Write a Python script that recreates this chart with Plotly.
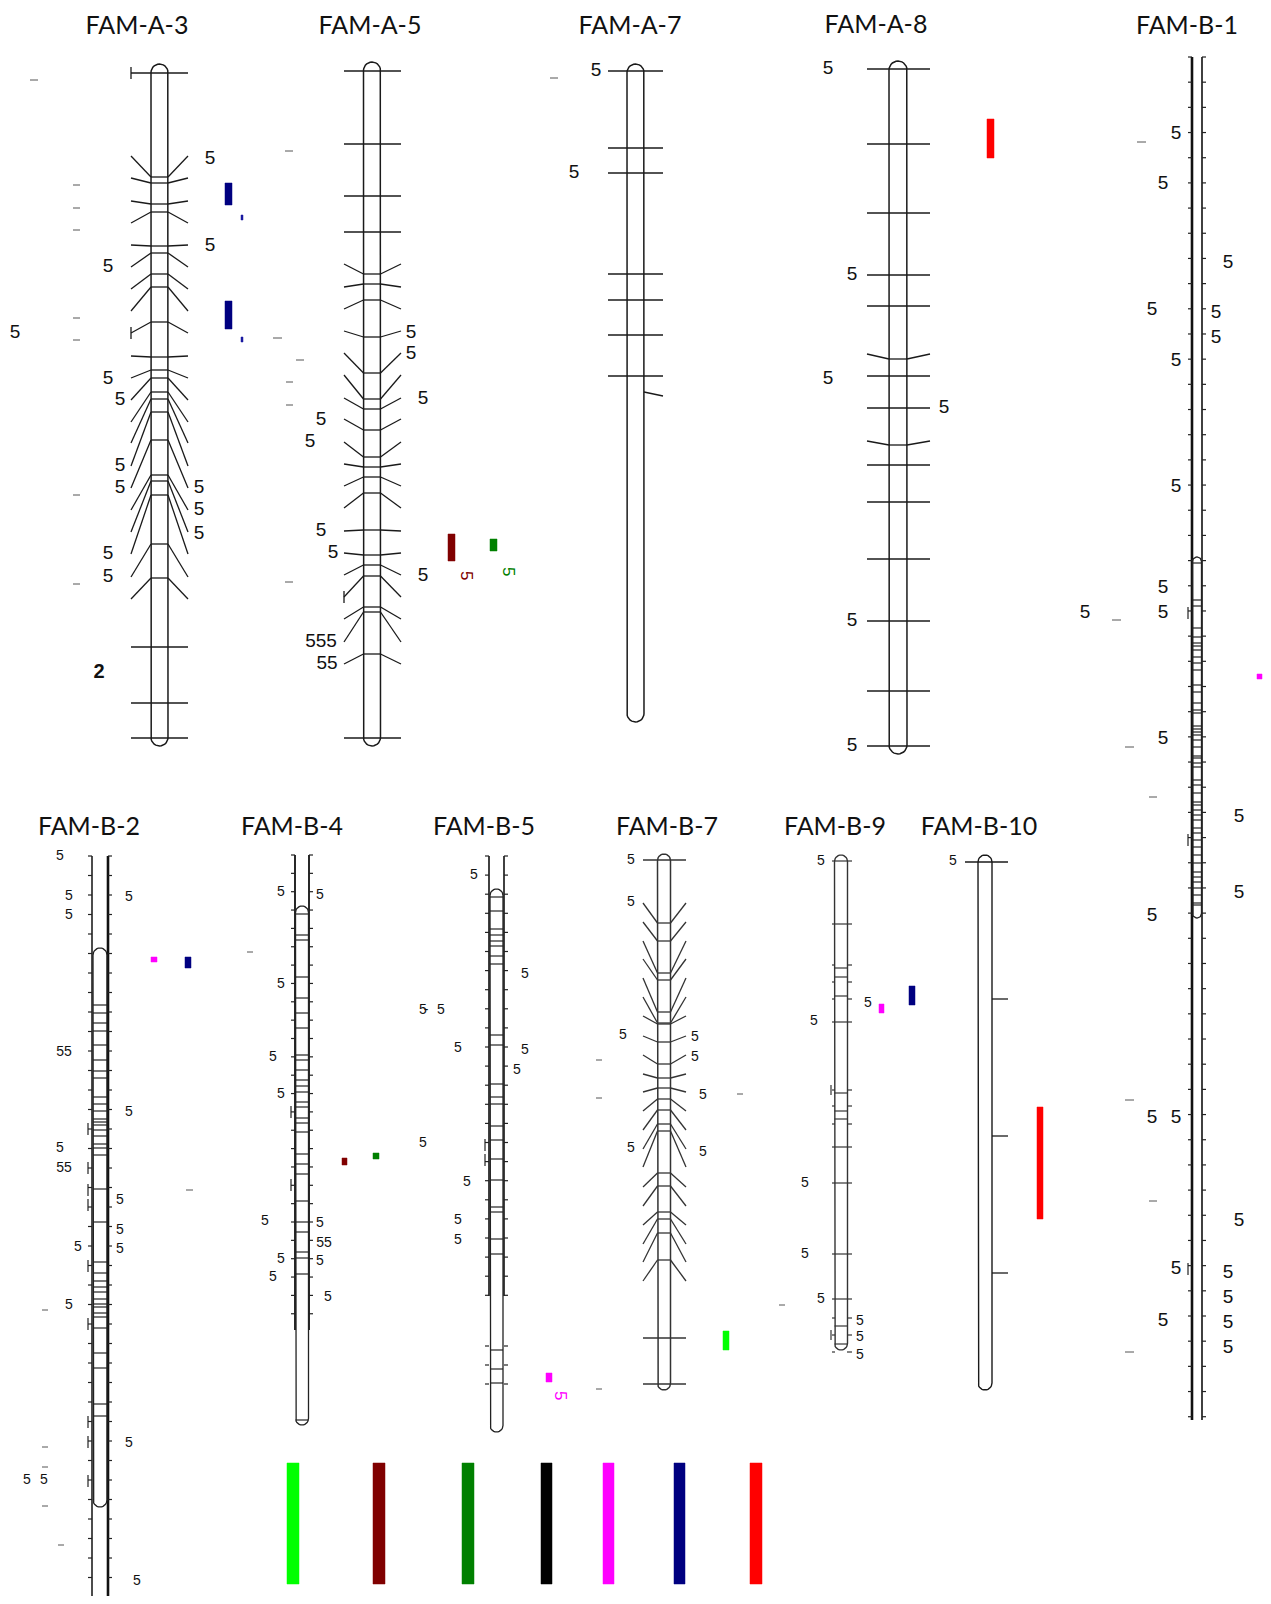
import math
import plotly.graph_objects as go

W, H = 1271, 1604
PAGE_MARGIN = 8  # default body margin of the html page

# ---------------- titles ----------------
TITLES = ["FAM-A-3", "FAM-A-5", "FAM-A-7", "FAM-A-8", "FAM-B-1", "FAM-B-2",
          "FAM-B-4", "FAM-B-5", "FAM-B-7", "FAM-B-9", "FAM-B-10"]
TITLE_X = [137, 370, 630, 876, 1187, 89, 292, 484, 667, 835, 979]
TITLE_Y = [28, 28, 28, 27, 28, 829, 829, 829, 829, 829, 829]

# ---------------- chromosome marker positions ----------------
A3_TUBE = [177, 183, 204, 212, 246, 253, 274, 287, 322, 357, 370, 378, 392, 399, 412,
           440, 475, 481, 495, 544, 578]
A3_END = [156, 178, 201, 223, 245, 267, 289, 311, 333, 356, 378, 400, 422, 443, 466,
          488, 510, 532, 554, 577, 599]
A3_HORIZ = [73, 647, 703, 738]
A3_TBARS = [73, 333]

A5_TUBE = [274, 284, 300, 337, 373, 399, 409, 430, 457, 467, 477, 493, 530, 555, 565,
           576, 607, 612, 654]
A5_END = [264, 287, 309, 331, 353, 375, 398, 419, 442, 464, 486, 508, 531, 553, 575,
          597, 619, 642, 664]
A5_HORIZ = [71, 144, 196, 232, 738]
A5_TBARS = [597]

A7_HORIZ = [71, 148, 173, 274, 300, 335, 376]
A7_RIGHT_TUBE = [392]
A7_RIGHT_END = [396]

A8_HORIZ = [69, 144, 213, 275, 306, 376, 408, 465, 502, 559, 621, 691, 746]
A8_TUBE = [359, 445]
A8_END = [354, 441]

B1_LINES = [563, 600, 606, 628, 637, 643, 646, 650, 657, 663, 670, 685, 692, 703, 710,
            713, 726, 729, 732, 735, 740, 747, 756, 758, 763, 767, 780, 785, 793, 802,
            805, 810, 815, 820, 828, 833, 840, 847, 855, 863, 872, 877, 882, 888, 895,
            903, 905]
B1_TBARS = [613, 840, 1269]

B2_LINES = [1005, 1013, 1023, 1031, 1045, 1060, 1071, 1078, 1097, 1104, 1111, 1119,
            1122, 1125, 1130, 1136, 1144, 1148, 1155, 1189, 1222, 1262, 1273, 1281,
            1287, 1292, 1299, 1304, 1307, 1313, 1317, 1328, 1353, 1368, 1404, 1416]
B2_TBARS = [1129, 1168, 1190, 1205, 1266, 1324, 1422, 1442, 1481]

B4_LINES = [914, 935, 940, 977, 998, 1013, 1028, 1055, 1060, 1070, 1080, 1086, 1092,
            1102, 1107, 1118, 1123, 1132, 1154, 1164, 1174, 1201, 1222, 1232, 1252,
            1258, 1274, 1420]
B4_TBARS = [1112, 1185]

B5_LINES = [897, 911, 929, 935, 941, 946, 956, 964, 1035, 1045, 1084, 1097, 1104, 1126,
            1140, 1159, 1180, 1207, 1212, 1239, 1254, 1350, 1369, 1383]
B5_EXTRA_TICKS = [1346, 1365, 1384]
B5_TBARS = [1145, 1160]

B7_TUBE = [923, 941, 973, 980, 1012, 1023, 1024, 1042, 1064, 1078, 1088, 1099, 1110,
           1124, 1131, 1173, 1186, 1212, 1219, 1233, 1260]
B7_END = [903, 922, 941, 959, 978, 997, 1016, 1036, 1055, 1074, 1092, 1111, 1130,
          1149, 1167, 1187, 1206, 1225, 1244, 1262, 1281]
B7_HORIZ = [860, 1338, 1384]

B9_TICKS = [861, 924, 1022, 1147, 1183, 1254, 1299]
B9_INNER = [968, 977, 996, 1093, 1111, 1119, 1326, 1344]
B9_BRACKETS = [965, 982, 999, 1090, 1106, 1124, 1318, 1335, 1352]
B9_TBARS = [1090, 1335]

B10_TOP = [862]
B10_RIGHT = [999, 1136, 1273]

# ---------------- labels ----------------
LAB_A_X = [210, 210, 108, 15, 108, 120, 120, 120, 199, 199, 199, 108, 108,
           411, 411, 423, 321, 310, 321, 333, 423,
           596, 574,
           828, 852, 828, 944, 852, 852]
LAB_A_Y = [159, 246, 267, 333, 379, 400, 466, 488, 488, 510, 534, 554, 577,
           333, 354, 399, 420, 442, 531, 553, 576,
           71, 173,
           69, 275, 379, 408, 621, 746]
LAB_A_MULTI_T = ["555", "55"]
LAB_A_MULTI_X = [321, 327]
LAB_A_MULTI_Y = [642, 664]

LAB_B1_X = [1176, 1163, 1228, 1152, 1216, 1216, 1176, 1176, 1163, 1163, 1085, 1163,
            1239, 1239, 1152, 1152, 1176, 1239, 1176, 1228, 1228, 1228, 1228, 1163]
LAB_B1_Y = [134, 184, 263, 310, 313, 338, 361, 487, 588, 613, 613, 739,
            817, 893, 916, 1118, 1118, 1221, 1269, 1273, 1298, 1323, 1348, 1321]

LAB_S_T = ["5", "5", "5", "5", "5", "5", "5", "5", "5", "5", "5", "5", "5", "5", "5",
           "55", "55",
           "5", "5", "5", "5", "5", "5", "5", "5", "5", "5", "5", "55",
           "5", "5", "-", "5", "5", "5", "5", "5", "5", "5", "5", "5",
           "5", "5", "5", "5", "5", "5", "5", "5",
           "5", "5", "5", "5", "5", "5", "5", "5", "5",
           "5"]
LAB_S_X = [60, 69, 69, 129, 129, 60, 120, 120, 120, 78, 69, 129, 27, 44, 137,
           64, 64,
           281, 320, 281, 273, 281, 265, 320, 281, 320, 273, 328, 324,
           474, 525, 426, 441, 458, 525, 517, 423, 467, 458, 458, 423,
           631, 631, 623, 695, 695, 703, 631, 703,
           821, 814, 805, 805, 821, 860, 860, 860, 868,
           953]
LAB_S_Y = [856, 896, 915, 897, 1112, 1148, 1200, 1230, 1249, 1247, 1305, 1443, 1480, 1480, 1581,
           1052, 1168,
           892, 895, 984, 1057, 1094, 1221, 1223, 1259, 1261, 1277, 1297, 1243,
           875, 974, 1010, 1010, 1048, 1050, 1070, 1143, 1182, 1220, 1240, 1010,
           860, 902, 1035, 1037, 1057, 1095, 1148, 1152,
           861, 1021, 1183, 1254, 1299, 1321, 1337, 1355, 1003,
           861]

# ---------------- coloured QTL bars ----------------
RECT_X0 = [225, 225, 241, 241, 987, 448, 490, 1257, 151, 185, 342, 373, 546, 723, 879, 909, 1037]
RECT_X1 = [232, 232, 243, 243, 994, 455, 497, 1262, 157, 191, 347, 379, 552, 729, 884, 915, 1043]
RECT_Y0 = [183, 301, 215, 337, 119, 534, 539, 674, 957, 957, 1158, 1153, 1373, 1331, 1004, 986, 1107]
RECT_Y1 = [205, 329, 220, 342, 158, 561, 551, 679, 962, 968, 1165, 1159, 1382, 1350, 1013, 1005, 1219]
RECT_C = ["#000080", "#000080", "#1a1aa0", "#1a1aa0", "#FF0000", "#800000", "#008000",
          "#FF00FF", "#FF00FF", "#000080", "#800000", "#008000", "#FF00FF", "#00FF00",
          "#FF00FF", "#000080", "#FF0000"]

LEGEND_COLORS = ["#00FF00", "#800000", "#008000", "#000000", "#FF00FF", "#000080", "#FF0000"]
LEGEND_X0 = [287, 373, 462, 541, 603, 674, 750]
LEGEND_X1 = [299, 385, 474, 552, 614, 685, 762]
LEGEND_Y = [1463, 1584]

ROT_T = ["5", "5", "5"]
ROT_X = [467, 509, 561]
ROT_Y = [575, 571, 1395]
ROT_C = ["#800000", "#008000", "#FF00FF"]

DASH_X0 = [30, 73, 73, 73, 73, 73, 73, 73, 285, 273, 296, 286, 286, 285, 550,
           247, 186, 42, 42, 42, 42, 58, 596, 596, 596, 737, 779,
           1137, 1112, 1125, 1149, 1125, 1149, 1125]
DASH_X1 = [38, 80, 80, 80, 80, 80, 80, 80, 293, 282, 304, 293, 293, 293, 558,
           253, 193, 48, 48, 48, 48, 64, 602, 602, 602, 743, 785,
           1146, 1121, 1134, 1157, 1134, 1157, 1134]
DASH_Y = [80, 185, 208, 230, 318, 340, 495, 584, 151, 338, 360, 382, 405, 582, 78,
          952, 1190, 1310, 1447, 1467, 1506, 1545, 1060, 1098, 1389, 1094, 1305,
          142, 620, 747, 797, 1100, 1201, 1352]

# ---------------- helpers ----------------
def capsule(cx, w, top, bot, n=14):
    r = w / 2.0
    xs, ys = [cx - r, cx - r], [top + r, bot - r]
    for i in range(1, n):
        a = math.pi - math.pi * i / n
        xs.append(cx + r * math.cos(a)); ys.append(bot - r + r * math.sin(a))
    xs += [cx + r, cx + r]; ys += [bot - r, top + r]
    for i in range(1, n + 1):
        a = math.pi * i / n
        xs.append(cx + r * math.cos(a)); ys.append(top + r - r * math.sin(a))
    return xs, ys


def seg_trace(segs, color, width):
    xs, ys = [], []
    for x0, y0, x1, y1 in segs:
        xs += [x0, x1, None]; ys += [y0, y1, None]
    return go.Scatter(x=xs, y=ys, mode="lines", line=dict(color=color, width=width),
                      hoverinfo="skip", showlegend=False, cliponaxis=False)


def tube_trace(cx, w, top, bot, color, width):
    xs, ys = capsule(cx, w, top, bot)
    return go.Scatter(x=xs, y=ys, mode="lines", line=dict(color=color, width=width),
                      hoverinfo="skip", showlegend=False, cliponaxis=False)


def text_trace(xs, ys, texts, family, size, color="#111111"):
    return go.Scatter(x=xs, y=ys, mode="text", text=texts,
                      textfont=dict(family=family, size=size, color=color),
                      hoverinfo="skip", showlegend=False, cliponaxis=False)


fig = go.Figure()


def fan_chrom(cx, w, top, bot, endL, endR, tube, end, horiz, tbars, color="#1a1a1a"):
    r = w / 2.0
    fig.add_trace(tube_trace(cx, w, top, bot, color, 1.5))
    segs = []
    for ty, ey in zip(tube, end):
        segs.append((cx - r, ty, cx + r, ty))
        segs.append((endL, ey, cx - r, ty))
        segs.append((cx + r, ty, endR, ey))
    for y in horiz:
        segs.append((endL, y, endR, y))
    for y in tbars:
        segs.append((endL, y - 6, endL, y + 6))
    fig.add_trace(seg_trace(segs, color, 1.3))


fan_chrom(159.5, 17, 64, 746, 131, 188, A3_TUBE, A3_END, A3_HORIZ, A3_TBARS)
fan_chrom(372, 17, 62, 746, 344, 401, A5_TUBE, A5_END, A5_HORIZ, A5_TBARS)
fan_chrom(635.5, 17, 64, 722, 608, 663, [], [], A7_HORIZ, [])
fig.add_trace(seg_trace([(644, t, 663, e) for t, e in zip(A7_RIGHT_TUBE, A7_RIGHT_END)],
                        "#1a1a1a", 1.3))
fan_chrom(898, 18, 61, 754, 867, 930, A8_TUBE, A8_END, A8_HORIZ, [])


def ruler_chrom(xl, xr, rtop, rbot, step, cx, w, top, bot, lines, tbars, lw_l, lw_r,
                extra_ticks=()):
    segs_l, segs_r, ticks = [], [], []
    segs_l.append((xl, rtop, xl, rbot))
    segs_r.append((xr, rtop, xr, rbot))
    y = rtop
    while y <= rbot + 0.5:
        ticks.append((xl - 4, y, xl, y))
        ticks.append((xr, y, xr + 4, y))
        y += step
    for y in extra_ticks:
        ticks.append((xl - 4, y, xl, y))
        ticks.append((xr, y, xr + 4, y))
    fig.add_trace(seg_trace(segs_l, "#111111", lw_l))
    fig.add_trace(seg_trace(segs_r, "#111111", lw_r))
    fig.add_trace(seg_trace(ticks, "#222222", 1.2))
    fig.add_trace(tube_trace(cx, w, top, bot, "#222222", 1.3))
    r = w / 2.0
    inner = [(cx - r, y, cx + r, y) for y in lines]
    for y in tbars:
        inner.append((xl - 4, y - 6, xl - 4, y + 6))
    fig.add_trace(seg_trace(inner, "#222222", 1.2))


ruler_chrom(1192, 1202, 57, 1420, 25.18, 1197, 9, 557, 918, B1_LINES, B1_TBARS, 2.6, 1.6)
ruler_chrom(92, 108, 856, 1597, 19.5, 100, 14, 948, 1507, B2_LINES, B2_TBARS, 1.5, 2.6)
ruler_chrom(295, 309, 855, 1330, 18.35, 302, 13, 906, 1425, B4_LINES, B4_TBARS, 1.8, 1.8)
ruler_chrom(489, 504, 856, 1296, 19.1, 496.5, 13, 889, 1432, B5_LINES, B5_TBARS, 1.6, 1.6,
            B5_EXTRA_TICKS)

fan_chrom(664, 13, 854, 1390, 643, 686, B7_TUBE, B7_END, B7_HORIZ, [], color="#333333")

fig.add_trace(tube_trace(841, 13, 855, 1350, "#333333", 1.4))
b9 = [(832, y, 852, y) for y in B9_TICKS]
b9 += [(834.5, y, 847.5, y) for y in B9_INNER]
for y in B9_BRACKETS:
    b9.append((832, y, 835, y)); b9.append((847, y, 852, y))
for y in B9_TBARS:
    b9.append((831, y - 5, 831, y + 5))
fig.add_trace(seg_trace(b9, "#333333", 1.2))

fig.add_trace(tube_trace(985, 14, 855, 1390, "#1a1a1a", 1.4))
b10 = [(965, y, 1008, y) for y in B10_TOP] + [(992, y, 1008, y) for y in B10_RIGHT]
fig.add_trace(seg_trace(b10, "#1a1a1a", 1.3))

fig.add_trace(seg_trace([(a, y, b, y) for a, b, y in zip(DASH_X0, DASH_X1, DASH_Y)],
                        "#555555", 1.0))


def rect_trace(x0, x1, y0, y1, c):
    return go.Scatter(x=[x0, x1, x1, x0, x0], y=[y0, y0, y1, y1, y0], mode="lines",
                      fill="toself", fillcolor=c, line=dict(color=c, width=0.5),
                      hoverinfo="skip", showlegend=False, cliponaxis=False)


for x0, x1, y0, y1, c in zip(RECT_X0, RECT_X1, RECT_Y0, RECT_Y1, RECT_C):
    fig.add_trace(rect_trace(x0, x1, y0, y1, c))
for x0, x1, c in zip(LEGEND_X0, LEGEND_X1, LEGEND_COLORS):
    fig.add_trace(rect_trace(x0, x1, LEGEND_Y[0], LEGEND_Y[1], c))

fig.add_trace(text_trace(TITLE_X, TITLE_Y, TITLES, "Lato", 25))
fig.add_trace(text_trace(LAB_A_X, LAB_A_Y, ["5"] * len(LAB_A_X), "Liberation Sans", 19))
fig.add_trace(text_trace(LAB_A_MULTI_X, LAB_A_MULTI_Y, LAB_A_MULTI_T, "Liberation Sans", 19))
fig.add_trace(text_trace([99], [673], ["<b>2</b>"], "Liberation Sans", 20))
fig.add_trace(text_trace(LAB_B1_X, LAB_B1_Y, ["5"] * len(LAB_B1_X), "Liberation Sans", 19))
fig.add_trace(text_trace(LAB_S_X, LAB_S_Y, LAB_S_T, "Liberation Sans", 14))

for t, x, y, c in zip(ROT_T, ROT_X, ROT_Y, ROT_C):
    fig.add_annotation(x=x, y=y, text=t, textangle=90, showarrow=False,
                       font=dict(family="Liberation Sans", size=17, color=c))

# The page body has an 8 px margin; shrink the figure so it fits the window exactly
# and offset the axis ranges so that data units equal window pixels.
M = PAGE_MARGIN
fig.update_layout(
    width=W - 2 * M, height=H - 2 * M, margin=dict(l=0, r=0, t=0, b=0),
    paper_bgcolor="white", plot_bgcolor="white", showlegend=False,
    xaxis=dict(range=[M, W - M], visible=False, fixedrange=True),
    yaxis=dict(range=[H - M, M], visible=False, fixedrange=True),
)

fig.write_html("out.html")
